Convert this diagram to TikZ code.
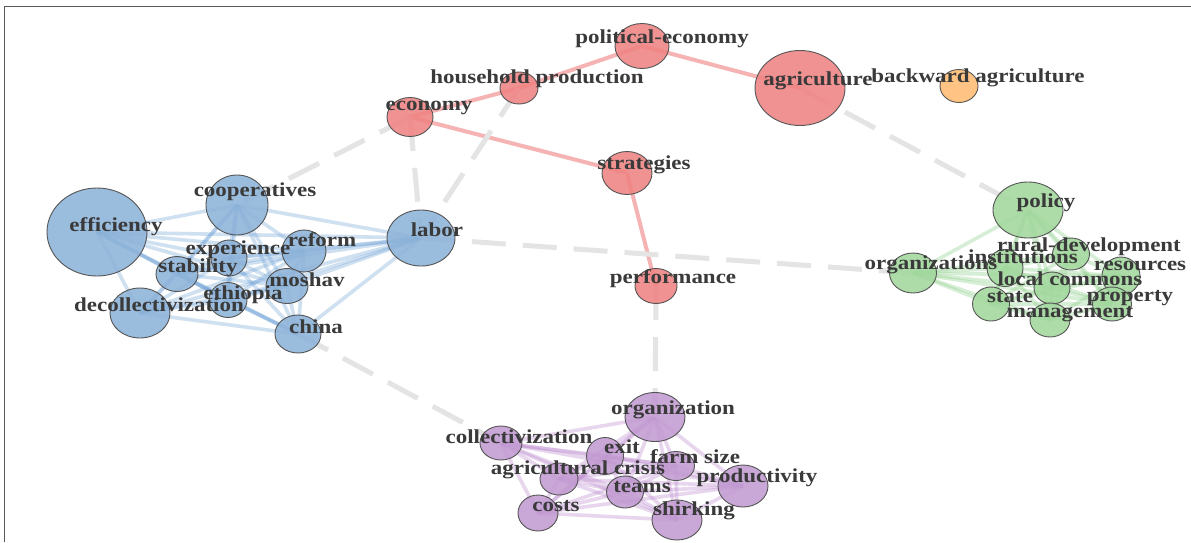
\documentclass[tikz,border=0pt]{standalone}
\usepackage{fontspec}
\usetikzlibrary{shapes.geometric}
\newfontfamily\lblfont{Liberation Serif}[FakeStretch=1.16]
\definecolor{txt}{HTML}{3A3A3A}
\definecolor{bfill}{HTML}{8DB3D9}
\definecolor{rfill}{HTML}{F08383}
\definecolor{gfill}{HTML}{A2D89E}
\definecolor{pfill}{HTML}{C29BD2}
\definecolor{ofill}{HTML}{FFBC73}
\definecolor{bedge}{HTML}{6FA3D6}
\definecolor{gedge}{HTML}{8FD08A}
\definecolor{pedge}{HTML}{B985CC}
\definecolor{redge}{HTML}{F6B3B3}
\definecolor{dedge}{HTML}{E4E4E4}
\definecolor{nborder}{HTML}{555555}
\tikzset{
  vtx/.style={ellipse, draw=nborder, line width=0.9pt, fill opacity=0.88, inner sep=0pt},
  bnode/.style={vtx, fill=bfill},
  rnode/.style={vtx, fill=rfill},
  gnode/.style={vtx, fill=gfill},
  pnode/.style={vtx, fill=pfill},
  onode/.style={vtx, fill=ofill},
  lbl/.style={inner sep=0pt, yshift=-3pt, text=txt, font=\lblfont\bfseries\fontsize{19.8}{20}\selectfont, text height=0.68em, text depth=0.22em},
  dashedge/.style={draw=dedge, line width=5pt, dash pattern=on 34pt off 17pt},
  redgeline/.style={draw=redge, line width=4pt},
  bedgeline/.style={draw=bedge, line width=3.6pt, draw opacity=0.33},
  gedgeline/.style={draw=gedge, line width=3.6pt, draw opacity=0.35},
  pedgeline/.style={draw=pedge, line width=3.6pt, draw opacity=0.33},
}
\begin{document}
\begin{tikzpicture}[x=1pt,y=-1pt]
\useasboundingbox (0,0) rectangle (1191,542);
\fill[white] (0,0) rectangle (1191,542);
\draw[line width=1.6pt, draw=gray!70!black] (4.5,542) -- (4.5,6.5) -- (1191,6.5);

% ---------- vertex coordinates ----------
% blue
\coordinate (eff) at (97,232);
\coordinate (coop) at (237,205);
\coordinate (lab) at (421,238);
\coordinate (ref) at (304,251);
\coordinate (expr) at (229,258);
\coordinate (stab) at (177,274);
\coordinate (mosh) at (287,286);
\coordinate (eth) at (228,300);
\coordinate (dec) at (140,313);
\coordinate (chi) at (298,334);
% red
\coordinate (pol) at (642,46);
\coordinate (hh) at (519,88);
\coordinate (eco) at (410,117);
\coordinate (agr) at (800,88);
\coordinate (bwd) at (959,86);
\coordinate (strat) at (627,173);
\coordinate (perf) at (656,286);
% green
\coordinate (polc) at (1028,210);
\coordinate (orgs) at (913,273);
\coordinate (inst) at (1005,268);
\coordinate (rural) at (1071,254);
\coordinate (res) at (1121,276);
\coordinate (loc) at (1052,288);
\coordinate (stat) at (991,304);
\coordinate (prop) at (1112,304);
\coordinate (man) at (1050,320);
% purple
\coordinate (org) at (655,417);
\coordinate (coll) at (501,443);
\coordinate (exit) at (605,456);
\coordinate (farm) at (676,466);
\coordinate (agcr) at (559,479);
\coordinate (prod) at (743,486);
\coordinate (team) at (625,492);
\coordinate (cost) at (538,513);
\coordinate (shir) at (677,520);

% ---------- cluster edges ----------
\foreach [count=\i] \a in {eff,coop,lab,ref,expr,stab,mosh,eth,dec,chi}{
  \foreach [count=\j] \b in {eff,coop,lab,ref,expr,stab,mosh,eth,dec,chi}{
    \ifnum\j>\i \draw[bedgeline] (\a) -- (\b); \fi
  }
}
\foreach [count=\i] \a in {polc,orgs,inst,rural,res,loc,stat,prop,man}{
  \foreach [count=\j] \b in {polc,orgs,inst,rural,res,loc,stat,prop,man}{
    \ifnum\j>\i \draw[gedgeline] (\a) -- (\b); \fi
  }
}
\foreach [count=\i] \a in {org,coll,exit,farm,agcr,prod,team,cost,shir}{
  \foreach [count=\j] \b in {org,coll,exit,farm,agcr,prod,team,cost,shir}{
    \ifnum\j>\i \draw[pedgeline] (\a) -- (\b); \fi
  }
}

% ---------- red edges ----------
\draw[redgeline] (eco) -- (hh);
\draw[redgeline] (hh) -- (pol);
\draw[redgeline] (pol) -- (agr);
\draw[redgeline] (eco) -- (strat);
\draw[redgeline] (strat) -- (perf);

% ---------- dashed gray edges ----------
\draw[dashedge] (eco) -- (coop);
\draw[dashedge] (eco) -- (lab);
\draw[dashedge] (hh) -- (lab);
\draw[dashedge] (lab) -- (orgs);
\draw[dashedge] (agr) -- (polc);
\draw[dashedge] (perf) -- (org);
\draw[dashedge] (chi) -- (coll);

% ---------- vertices ----------
\node[bnode, minimum width=100pt, minimum height=88pt] (effN) at (eff) {};
\node[bnode, minimum width=62pt, minimum height=60pt] (coopN) at (coop) {};
\node[bnode, minimum width=68pt, minimum height=56pt] (labN) at (lab) {};
\node[bnode, minimum width=44pt, minimum height=42pt] (refN) at (ref) {};
\node[bnode, minimum width=36pt, minimum height=36pt] (exprN) at (expr) {};
\node[bnode, minimum width=42pt, minimum height=35pt] (stabN) at (stab) {};
\node[bnode, minimum width=42pt, minimum height=35pt] (moshN) at (mosh) {};
\node[bnode, minimum width=38pt, minimum height=35pt] (ethN) at (eth) {};
\node[bnode, minimum width=60pt, minimum height=50pt] (decN) at (dec) {};
\node[bnode, minimum width=46pt, minimum height=38pt] (chiN) at (chi) {};

\node[rnode, minimum width=54pt, minimum height=45pt] (polN) at (pol) {};
\node[rnode, minimum width=38pt, minimum height=32pt] (hhN) at (hh) {};
\node[rnode, minimum width=46pt, minimum height=39pt] (ecoN) at (eco) {};
\node[rnode, minimum width=90pt, minimum height=75pt] (agrN) at (agr) {};
\node[onode, minimum width=38pt, minimum height=33pt] (bwdN) at (bwd) {};
\node[rnode, minimum width=50pt, minimum height=43pt] (stratN) at (strat) {};
\node[rnode, minimum width=42pt, minimum height=35pt] (perfN) at (perf) {};

\node[gnode, minimum width=70pt, minimum height=56pt] (polcN) at (polc) {};
\node[gnode, minimum width=47pt, minimum height=40pt] (orgsN) at (orgs) {};
\node[gnode, minimum width=36pt, minimum height=37pt] (instN) at (inst) {};
\node[gnode, minimum width=37pt, minimum height=32pt] (ruralN) at (rural) {};
\node[gnode, minimum width=38pt, minimum height=38pt] (resN) at (res) {};
\node[gnode, minimum width=36pt, minimum height=32pt] (locN) at (loc) {};
\node[gnode, minimum width=37pt, minimum height=34pt] (statN) at (stat) {};
\node[gnode, minimum width=39pt, minimum height=34pt] (propN) at (prop) {};
\node[gnode, minimum width=40pt, minimum height=34pt] (manN) at (man) {};

\node[pnode, minimum width=60pt, minimum height=49pt] (orgN) at (org) {};
\node[pnode, minimum width=42pt, minimum height=34pt] (collN) at (coll) {};
\node[pnode, minimum width=37pt, minimum height=37pt] (exitN) at (exit) {};
\node[pnode, minimum width=37pt, minimum height=29pt] (farmN) at (farm) {};
\node[pnode, minimum width=38pt, minimum height=32pt] (agcrN) at (agcr) {};
\node[pnode, minimum width=50pt, minimum height=42pt] (prodN) at (prod) {};
\node[pnode, minimum width=37pt, minimum height=32pt] (teamN) at (team) {};
\node[pnode, minimum width=40pt, minimum height=36pt] (costN) at (cost) {};
\node[pnode, minimum width=50pt, minimum height=40pt] (shirN) at (shir) {};

% ---------- labels ----------
\node[lbl] (effL) at (116,226) {efficiency};
\node[lbl] (coopL) at (255,191) {cooperatives};
\node[lbl] (labL) at (437,231) {labor};
\node[lbl] (refL) at (322,241) {reform};
\node[lbl] (exprL) at (238,249) {experience};
\node[lbl] (stabL) at (198,267) {stability};
\node[lbl] (moshL) at (307,281) {moshav};
\node[lbl] (ethL) at (243,294) {ethiopia};
\node[lbl] (decL) at (159,306) {decollectivization};
\node[lbl] (chiL) at (316,328) {china};

\node[lbl] (polL) at (662,38) {political-economy};
\node[lbl] (hhL) at (537,78) {household production};
\node[lbl] (ecoL) at (429,105) {economy};
\node[lbl] (agrL) at (818,80) {agriculture};
\node[lbl] (bwdL) at (978,77) {backward agriculture};
\node[lbl] (stratL) at (644,164) {strategies};
\node[lbl] (perfL) at (673,278) {performance};

\node[lbl] (polcL) at (1046,202) {policy};
\node[lbl] (orgsL) at (931,264) {organizations};
\node[lbl] (instL) at (1023,258) {institutions};
\node[lbl] (ruralL) at (1089,246) {rural-development};
\node[lbl] (resL) at (1140,265) {resources};
\node[lbl] (locL) at (1070,280) {local commons};
\node[lbl] (statL) at (1010,297) {state};
\node[lbl] (propL) at (1130,296) {property};
\node[lbl] (manL) at (1070,312) {management};

\node[lbl] (orgL) at (673,409) {organization};
\node[lbl] (collL) at (519,438) {collectivization};
\node[lbl] (exitL) at (622,448) {exit};
\node[lbl] (farmL) at (695,458) {farm size};
\node[lbl] (agcrL) at (578,469) {agricultural crisis};
\node[lbl] (prodL) at (757,477) {productivity};
\node[lbl] (teamL) at (642,487) {teams};
\node[lbl] (costL) at (556,506) {costs};
\node[lbl] (shirL) at (694,510) {shirking};
\end{tikzpicture}
\end{document}
